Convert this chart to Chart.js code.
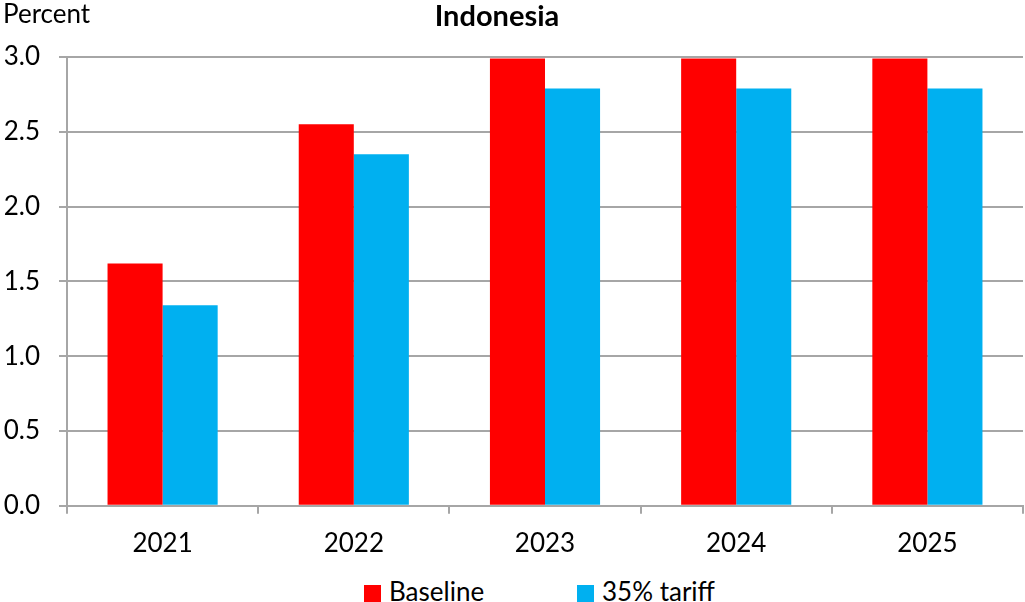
<!DOCTYPE html>
<html>
<head>
<meta charset="utf-8">
<script src="https://cdn.jsdelivr.net/npm/chart.js@4"></script>
<style>
    html, body { margin: 0; padding: 0; background: #fff; }
    #wrap { width: 1025px; height: 573px; position: relative; }
    #legend {
        width: 1025px; height: 29px; position: relative;
        font-family: Lato, "Open Sans", sans-serif; font-size: 26px; color: #000;
    }
    #legend .item { position: absolute; top: 2px; height: 32px; line-height: 32px; white-space: nowrap; }
    #legend .box { display: inline-block; width: 17px; height: 17px; vertical-align: middle; margin-right: 8px; position: relative; top: -1px; }
</style>
</head>
<body>
<div id="wrap"><canvas id="chart"></canvas></div>
<div id="legend"></div>
<script>
    var years = ['2021', '2022', '2023', '2024', '2025'];
    var baseline = [1.62, 2.55, 2.99, 2.99, 2.99];
    var tariff = [1.34, 2.35, 2.79, 2.79, 2.79];
    var seriesNames = ['Baseline', '35% tariff'];
    var seriesColors = ['#FF0000', '#00B0F0'];
    var chartTitle = 'Indonesia';
    var unitText = 'Percent';

    var fontFamily = 'Lato, "Open Sans", sans-serif';
    var gridColor = '#A6A6A6';

    // title (centred over the plot) and the "Percent" unit label
    var headerText = {
        id: 'headerText',
        afterDraw: function (chart) {
            var ctx = chart.ctx;
            var area = chart.chartArea;
            ctx.save();
            ctx.fillStyle = '#000';
            ctx.textBaseline = 'middle';

            ctx.font = '26px ' + fontFamily;
            ctx.textAlign = 'left';
            ctx.fillText(unitText, 3, 15);

            ctx.font = 'bold 29px ' + fontFamily;
            ctx.textAlign = 'center';
            ctx.fillText(chartTitle, (area.left + area.right) / 2 - 48, 17);
            ctx.restore();
        }
    };

    var chart = new Chart(document.getElementById('chart'), {
        type: 'bar',
        data: {
            labels: years,
            datasets: [
                {
                    label: seriesNames[0],
                    data: baseline,
                    backgroundColor: seriesColors[0],
                    categoryPercentage: 0.576,
                    barPercentage: 1
                },
                {
                    label: seriesNames[1],
                    data: tariff,
                    backgroundColor: seriesColors[1],
                    categoryPercentage: 0.576,
                    barPercentage: 1
                }
            ]
        },
        options: {
            responsive: true,
            maintainAspectRatio: false,
            animation: false,
            layout: { padding: { left: 0, right: 2, top: 57, bottom: 0 } },
            plugins: {
                title: { display: false },
                legend: { display: false },
                tooltip: { enabled: false }
            },
            scales: {
                x: {
                    offset: true,
                    grid: {
                        offset: true,
                        drawOnChartArea: false,
                        color: gridColor,
                        tickLength: 8,
                        lineWidth: 2
                    },
                    border: { color: gridColor, width: 2 },
                    ticks: {
                        color: '#000',
                        padding: 14,
                        font: { family: fontFamily, size: 26 }
                    }
                },
                y: {
                    min: 0,
                    max: 3,
                    afterFit: function (scale) { scale.width = 67; },
                    grid: {
                        color: gridColor,
                        tickLength: 8,
                        lineWidth: 2
                    },
                    border: { color: gridColor, width: 2 },
                    ticks: {
                        stepSize: 0.5,
                        color: '#000',
                        padding: 19,
                        font: { family: fontFamily, size: 26 },
                        callback: function (v) { return v.toFixed(1); }
                    }
                }
            }
        },
        plugins: [headerText]
    });

    // legend below the canvas
    var legendLeft = [364, 577];
    var $legend = document.getElementById('legend');
    chart.data.datasets.forEach(function (ds, i) {
        var item = document.createElement('span');
        item.className = 'item';
        item.style.left = legendLeft[i] + 'px';
        var box = document.createElement('span');
        box.className = 'box';
        box.style.background = ds.backgroundColor;
        item.appendChild(box);
        item.appendChild(document.createTextNode(ds.label));
        $legend.appendChild(item);
    });
</script>
</body>
</html>
